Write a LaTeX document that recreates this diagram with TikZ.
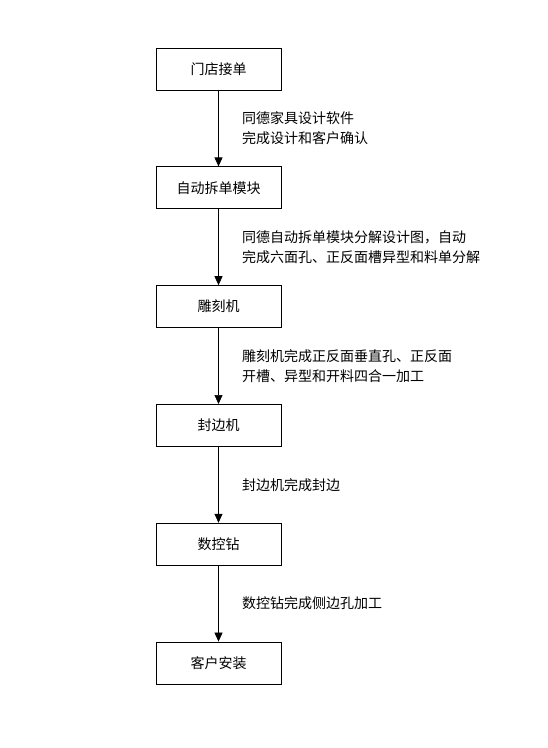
\documentclass[tikz,border=0pt]{standalone}
\usepackage{fontspec}
\newfontfamily\cjk{Noto Sans CJK SC}
\usetikzlibrary{arrows.meta, positioning}
\tikzset{
    node distance = 76pt,
    stageNode/.style = {rectangle, draw=black, line width=0.8pt, minimum width=125pt, minimum height=42pt, text centered, font=\cjk\fontsize{14pt}{20pt}\selectfont},
    stagePath/.style = {-{Triangle[length=9pt, width=8pt]}, line width=0.7pt, draw},
    noteNode/.style = {right=20pt, align=left, font=\cjk\fontsize{14pt}{20pt}\selectfont}
}
\begin{document}
\begin{tikzpicture}[x=1pt, y=-1pt]
            \useasboundingbox (0,0) rectangle (548,748);
            \node(order)[stageNode] at (218.5,69){门店接单};
            \node(split)[stageNode, below=of order]{自动拆单模块};
            \node(carve)[stageNode, below=of split]{雕刻机};
            \node(edge)[stageNode, below=of carve]{封边机};
            \node(drill)[stageNode, below=of edge]{数控钻};
            \node(install)[stageNode, below=of drill]{客户安装};
            \path[stagePath] (order) to node[noteNode]{同德家具设计软件\\完成设计和客户确认} (split);
            \path[stagePath] (split) to node[noteNode]{同德自动拆单模块分解设计图，自动\\完成六面孔、正反面槽异型和料单分解} (carve);
            \path[stagePath] (carve) to node[noteNode]{雕刻机完成正反面垂直孔、正反面\\开槽、异型和开料四合一加工} (edge);
            \path[stagePath] (edge) to node[noteNode]{封边机完成封边} (drill);
            \path[stagePath] (drill) to node[noteNode]{数控钻完成侧边孔加工} (install);
        \end{tikzpicture}
\end{document}
